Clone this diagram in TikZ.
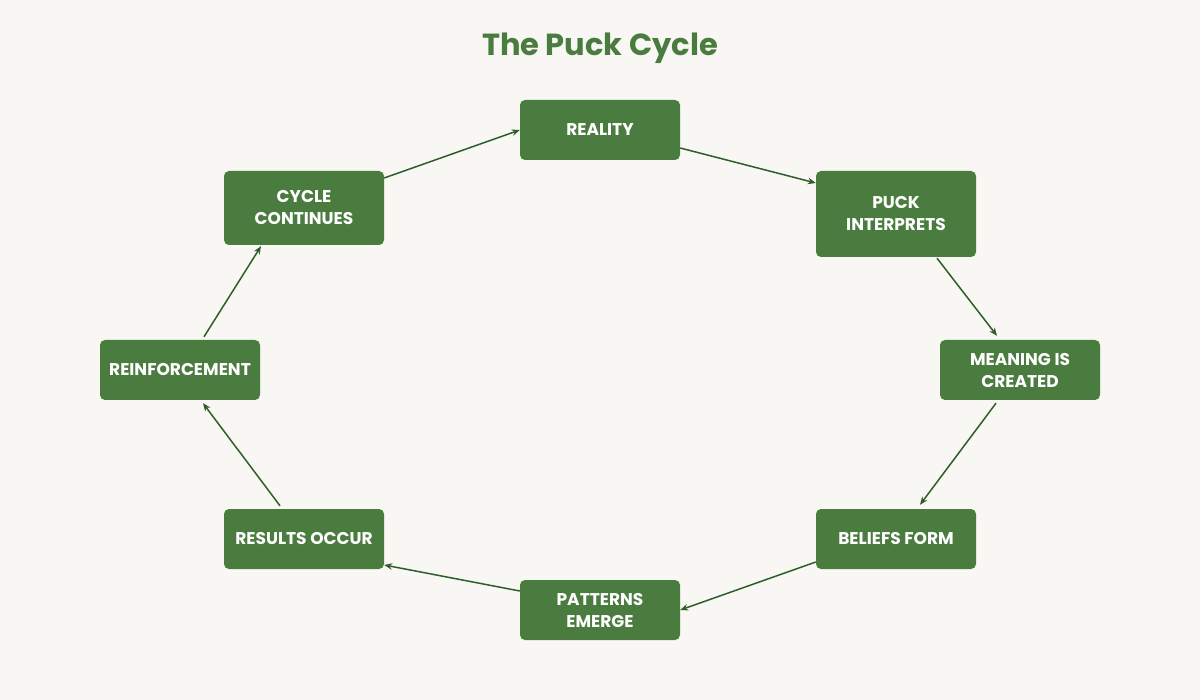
\documentclass[tikz,border=0pt]{standalone}
\usepackage{fontspec}
\setmainfont{Poppins}
\usetikzlibrary{arrows.meta,calc}
\definecolor{bg}{HTML}{F8F7F3}
\definecolor{boxgreen}{HTML}{4A7C3F}
\definecolor{arrowgreen}{HTML}{2F5E2A}
\definecolor{titlegreen}{HTML}{4A7C3F}
\tikzset{
  stepbox/.style={rectangle, rounded corners=5pt, fill=boxgreen, text=white,
    font=\fontsize{17}{22}\selectfont\bfseries, align=center,
    minimum width=160pt, minimum height=60pt, inner sep=0pt},
  flow/.style={draw=arrowgreen, line width=1.5pt, -{Stealth[length=8pt,width=6.5pt]}}
}
\begin{document}
\begin{tikzpicture}[x=1pt,y=-1pt]
\fill[bg] (0,0) rectangle (1200,700);
\useasboundingbox (0,0) rectangle (1200,700);
\node[text=titlegreen, font=\fontsize{30.5}{36}\selectfont\bfseries] (title) at (600,48) {The Puck Cycle};
\node[stepbox] (reality) at (600,130) {REALITY};
\node[stepbox, minimum height=86pt] (puck) at (896,214) {PUCK\\INTERPRETS};
\node[stepbox] (meaning) at (1020,370) {MEANING IS\\CREATED};
\node[stepbox] (beliefs) at (896,539) {BELIEFS FORM};
\node[stepbox] (patterns) at (600,610) {PATTERNS\\EMERGE};
\node[stepbox] (results) at (304,539) {RESULTS OCCUR};
\node[stepbox] (reinf) at (180,370) {REINFORCEMENT};
\node[stepbox, minimum height=74pt] (cycle) at (304,208) {CYCLE\\CONTINUES};
\draw[flow] ($(cycle.east)+(0,-30)$) -- (reality.west);
\draw[flow] ($(reality.east)+(0,18)$) -- ($(puck.west)+(0,-31)$);
\draw[flow] ($(puck.south)+(41,1)$) -- ($(meaning.north)+(-23,-4)$);
\draw[flow] ($(meaning.south)+(-24,3)$) -- ($(beliefs.north)+(24,-4)$);
\draw[flow] ($(beliefs.west)+(0,23)$) -- (patterns.east);
\draw[flow] ($(patterns.west)+(0,-19)$) -- ($(results.east)+(0,26)$);
\draw[flow] ($(results.north)+(-24,-3)$) -- ($(reinf.south)+(23,3)$);
\draw[flow] ($(reinf.north)+(24,-3)$) -- ($(cycle.south)+(-43,1)$);
\end{tikzpicture}
\end{document}
